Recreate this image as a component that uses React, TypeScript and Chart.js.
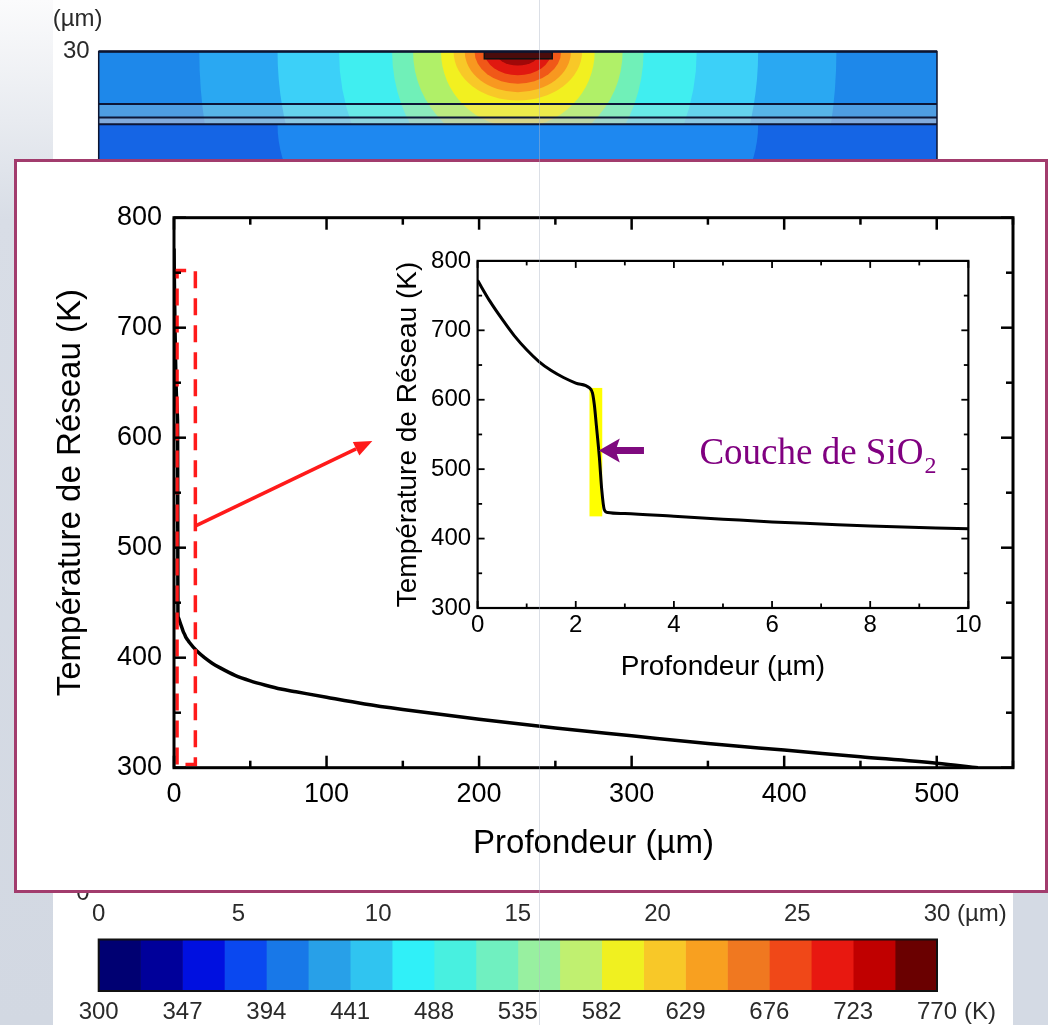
import React, { useEffect, useRef } from "react";
import { Chart, registerables } from "chart.js";
Chart.register(...registerables);

const SANS = "'Liberation Sans', Arial, Helvetica, sans-serif";
const SERIF = "'Liberation Serif', 'Times New Roman', serif";

// ---------- temperature profile (depth in µm, lattice temperature in K) ----------
const profileDepth = [0, 0.25, 0.5, 0.75, 1.0, 1.25, 1.5, 1.75, 2.0, 2.28, 2.34, 2.38, 2.42, 2.48, 2.53, 2.58, 2.65, 3, 4, 5, 6, 7, 8, 9, 10, 15, 20, 25, 30, 40, 50, 60, 70, 80, 100, 125, 150, 200, 250, 300, 350, 400, 450, 500, 527];
const profileTemp = [772, 742, 716, 692, 672, 655, 642, 632, 624, 617, 610, 592, 563, 518, 470, 442, 437.5, 436, 432, 428, 424, 421, 418, 416, 414, 406, 400, 395, 391, 384, 379, 375, 371.5, 369, 364, 358, 353, 344, 336, 329, 322, 316, 310, 304, 300];

// ---------- axes ----------
const mainXTicks = [0, 100, 200, 300, 400, 500];
const mainXMinor = [50, 150, 250, 350, 450, 550];
const mainYTicks = [300, 400, 500, 600, 700, 800];
const mainYMinor = [350, 450, 550, 650, 750];
const insetXTicks = [0, 2, 4, 6, 8, 10];
const insetXMinor = [1, 3, 5, 7, 9];
const insetYTicks = [300, 400, 500, 600, 700, 800];
const insetYMinor = [350, 450, 550, 650, 750];

// ---------- annotations ----------
const zoomBoxDepth = [2, 14];
const zoomBoxTemp = [303, 752];
const zoomArrowDepth = [14.5, 130];
const zoomArrowTemp = [520, 597];
const sio2Depth = [2.28, 2.54];
const sio2Temp = [432, 617];
const sio2ArrowDepth = [3.39, 2.47];
const sio2ArrowTemp = [527, 527];
const sio2LabelDepth = 4.52;
const sio2LabelTemp = 507;

// ---------- background simulation map (µm) ----------
const heatXTicks = [0, 5, 10, 15, 20, 25, 30];
const heatYTicks = [0, 30];
const heatCenterX = 15;
const heatLayerY = [28.13, 27.65, 27.41];
const heatContactX = [13.8, 16.23];
const heatContactY = [29.74, 30];
const heatContourHalfWidth = [11.4, 8.6, 6.4, 4.5, 3.75, 2.75, 2.3, 1.9, 1.55, 1.2, 0.8];
const heatContourDepth = [14, 10, 7, 5, 3.6, 2.7, 1.75, 1.45, 1.15, 0.85, 0.5];
const heatContourColors = ["#2aa8f2", "#3cd0f8", "#40eef0", "#70f0b8", "#b0f068", "#f2f020", "#f8c828", "#f89820", "#f05818", "#e01810", "#a00808"];
const heatOuterColor = "#1e88ea";
const heatSubstrateColors = ["#1565e5", "#1e88f0"];
const heatSubstrateHalfWidth = 8.6;
const heatSubstrateDepth = 6;

// ---------- colour bar ----------
const colorbarTicks = [300, 347, 394, 441, 488, 535, 582, 629, 676, 723, 770];
const colorbarEdges = [300, 323.5, 347, 370.5, 394, 417.5, 441, 464.5, 488, 511.5, 535, 558.5, 582, 605.5, 629, 652.5, 676, 699.5, 723, 746.5, 770];
const colorbarColors = ["#000072", "#00009a", "#0010e0", "#0a48f0", "#1878e8", "#28a0e8", "#30c4f0", "#30f0f8", "#48f0e0", "#70f0c0", "#98f0a0", "#c0f070", "#f0f020", "#f8c828", "#f8a020", "#f07820", "#f04818", "#e81810", "#c00000", "#6a0000"];

// ---------- helpers ----------
const fixSize = (size: number) => (scale: any) => {
  if (scale.isHorizontal()) scale.height = size;
  else scale.width = size;
};
const fixTicks = (vals: number[]) => (scale: any) => {
  scale.ticks = vals.map((v) => ({ value: v }));
};

function frameTicks(p: { xMajor: number[]; xMinor: number[]; yMajor: number[]; yMinor: number[]; major: number; minor: number; frame: number; tick: number }) {
  return {
    id: "frameTicks",
    afterDatasetsDraw(chart: any) {
      const { ctx, chartArea: a, scales } = chart;
      const xs = scales.x, ys = scales.y;
      ctx.save();
      ctx.strokeStyle = "#000";
      ctx.lineCap = "butt";
      ctx.lineWidth = p.tick;
      const seg = (x1: number, y1: number, x2: number, y2: number) => {
        ctx.beginPath();
        ctx.moveTo(x1, y1);
        ctx.lineTo(x2, y2);
        ctx.stroke();
      };
      const xt = (vals: number[], len: number) =>
        vals.forEach((v) => {
          const px = xs.getPixelForValue(v);
          if (px < a.left - 1 || px > a.right + 1) return;
          seg(px, a.bottom, px, a.bottom - len);
          seg(px, a.top, px, a.top + len);
        });
      const yt = (vals: number[], len: number) =>
        vals.forEach((v) => {
          const py = ys.getPixelForValue(v);
          if (py < a.top - 1 || py > a.bottom + 1) return;
          seg(a.left, py, a.left + len, py);
          seg(a.right, py, a.right - len, py);
        });
      xt(p.xMajor, p.major);
      xt(p.xMinor, p.minor);
      yt(p.yMajor, p.major);
      yt(p.yMinor, p.minor);
      ctx.lineWidth = p.frame;
      ctx.strokeRect(a.left, a.top, a.right - a.left, a.bottom - a.top);
      ctx.restore();
    },
  };
}

const mainMarkerPlugin = {
  id: "mainMarker",
  afterDatasetsDraw(chart: any) {
    const { ctx, scales } = chart;
    const X = (v: number) => scales.x.getPixelForValue(v);
    const Y = (v: number) => scales.y.getPixelForValue(v);
    ctx.save();
    ctx.strokeStyle = "#ff1a1a";
    ctx.lineWidth = 3.5;
    ctx.setLineDash([17, 10]);
    const l = X(zoomBoxDepth[0]), r = X(zoomBoxDepth[1]);
    const t = Y(zoomBoxTemp[1]), b = Y(zoomBoxTemp[0]);
    ctx.beginPath();
    ctx.moveTo(l, b);
    ctx.lineTo(l, t);
    ctx.lineTo(r, t);
    ctx.lineTo(r, b);
    ctx.lineTo(l, b);
    ctx.stroke();
    ctx.setLineDash([]);
    const x1 = X(zoomArrowDepth[0]), y1 = Y(zoomArrowTemp[0]);
    const x2 = X(zoomArrowDepth[1]), y2 = Y(zoomArrowTemp[1]);
    const ang = Math.atan2(y2 - y1, x2 - x1);
    const hl = 18, hw = 7.5;
    const bx = x2 - hl * Math.cos(ang), by = y2 - hl * Math.sin(ang);
    ctx.lineWidth = 3.5;
    ctx.beginPath();
    ctx.moveTo(x1, y1);
    ctx.lineTo(bx, by);
    ctx.stroke();
    ctx.fillStyle = "#ff1a1a";
    ctx.beginPath();
    ctx.moveTo(x2, y2);
    ctx.lineTo(bx + hw * Math.sin(ang), by - hw * Math.cos(ang));
    ctx.lineTo(bx - hw * Math.sin(ang), by + hw * Math.cos(ang));
    ctx.closePath();
    ctx.fill();
    ctx.restore();
  },
};

const insetMarkerPlugin = {
  id: "insetMarker",
  beforeDatasetsDraw(chart: any) {
    const { ctx, scales } = chart;
    const X = (v: number) => scales.x.getPixelForValue(v);
    const Y = (v: number) => scales.y.getPixelForValue(v);
    ctx.save();
    ctx.fillStyle = "#ffff00";
    ctx.fillRect(X(sio2Depth[0]), Y(sio2Temp[1]), X(sio2Depth[1]) - X(sio2Depth[0]), Y(sio2Temp[0]) - Y(sio2Temp[1]));
    ctx.restore();
  },
  afterDatasetsDraw(chart: any) {
    const { ctx, scales } = chart;
    const X = (v: number) => scales.x.getPixelForValue(v);
    const Y = (v: number) => scales.y.getPixelForValue(v);
    ctx.save();
    const tail = X(sio2ArrowDepth[0]), tip = X(sio2ArrowDepth[1]);
    const ty = Y(sio2ArrowTemp[1]);
    const hl = 21, hh = 12, sh = 3.5;
    ctx.fillStyle = "#7f0a7f";
    ctx.beginPath();
    ctx.moveTo(tip, ty);
    ctx.lineTo(tip + hl, ty - hh);
    ctx.lineTo(tip + hl - 3, ty - sh);
    ctx.lineTo(tail, ty - sh);
    ctx.lineTo(tail, ty + sh);
    ctx.lineTo(tip + hl - 3, ty + sh);
    ctx.lineTo(tip + hl, ty + hh);
    ctx.closePath();
    ctx.fill();
    ctx.fillStyle = "#800080";
    ctx.textBaseline = "alphabetic";
    ctx.textAlign = "left";
    ctx.font = `37px ${SERIF}`;
    const tx = X(sio2LabelDepth), tyb = Y(sio2LabelTemp);
    const main = "Couche de SiO";
    ctx.fillText(main, tx, tyb);
    const w = ctx.measureText(main).width;
    ctx.font = `24px ${SERIF}`;
    ctx.fillText("2", tx + w + 1, tyb + 9);
    ctx.restore();
  },
};

const heatmapPlugin = {
  id: "heatmap",
  beforeDatasetsDraw(chart: any) {
    const { ctx, chartArea: a, scales } = chart;
    const X = (v: number) => scales.x.getPixelForValue(v);
    const Y = (v: number) => scales.y.getPixelForValue(v);
    const pxX = X(1) - X(0), pxY = Y(0) - Y(1);
    const W = a.right - a.left;
    ctx.save();
    ctx.beginPath();
    ctx.rect(a.left, a.top, W, a.bottom - a.top);
    ctx.clip();
    const ySub = Y(heatLayerY[2]);
    ctx.fillStyle = heatSubstrateColors[0];
    ctx.fillRect(a.left, ySub, W, a.bottom - ySub);
    ctx.fillStyle = heatSubstrateColors[1];
    ctx.beginPath();
    ctx.ellipse(X(heatCenterX), ySub, heatSubstrateHalfWidth * pxX, heatSubstrateDepth * pxY, 0, 0, Math.PI * 2);
    ctx.fill();
    ctx.save();
    ctx.beginPath();
    ctx.rect(a.left, a.top, W, ySub - a.top);
    ctx.clip();
    ctx.fillStyle = heatOuterColor;
    ctx.fillRect(a.left, a.top, W, ySub - a.top);
    heatContourHalfWidth.forEach((hw, i) => {
      ctx.fillStyle = heatContourColors[i];
      ctx.beginPath();
      ctx.ellipse(X(heatCenterX), Y(30), hw * pxX, heatContourDepth[i] * pxY, 0, 0, Math.PI * 2);
      ctx.fill();
    });
    ctx.restore();
    ctx.fillStyle = "rgba(225,220,205,0.25)";
    ctx.fillRect(a.left, Y(heatLayerY[0]), W, Y(heatLayerY[1]) - Y(heatLayerY[0]));
    ctx.fillStyle = "rgba(195,195,210,0.6)";
    ctx.fillRect(a.left, Y(heatLayerY[1]), W, Y(heatLayerY[2]) - Y(heatLayerY[1]));
    ctx.strokeStyle = "#0c1636";
    ctx.lineWidth = 2;
    heatLayerY.forEach((v) => {
      const py = Y(v);
      ctx.beginPath();
      ctx.moveTo(a.left, py);
      ctx.lineTo(a.right, py);
      ctx.stroke();
    });
    const cl = X(heatContactX[0]), cr = X(heatContactX[1]);
    const ct = Y(heatContactY[1]), cb = Y(heatContactY[0]);
    ctx.fillStyle = "#4a0c0c";
    ctx.fillRect(cl, ct, cr - cl, cb - ct);
    ctx.strokeStyle = "#111";
    ctx.lineWidth = 1.5;
    ctx.strokeRect(cl, ct, cr - cl, cb - ct);
    ctx.restore();
    ctx.save();
    ctx.strokeStyle = "#0c1430";
    ctx.lineWidth = 1.5;
    ctx.beginPath();
    ctx.moveTo(a.left, a.bottom);
    ctx.lineTo(a.left, a.top);
    ctx.lineTo(a.right, a.top);
    ctx.lineTo(a.right, a.bottom);
    ctx.stroke();
    ctx.lineWidth = 2.5;
    ctx.beginPath();
    ctx.moveTo(a.left, a.top);
    ctx.lineTo(a.right, a.top);
    ctx.stroke();
    ctx.restore();
  },
  afterDraw(chart: any) {
    const { ctx, chartArea: a, scales } = chart;
    ctx.save();
    ctx.fillStyle = "#2a2a2a";
    ctx.font = `24px ${SANS}`;
    ctx.textBaseline = "middle";
    ctx.textAlign = "center";
    ctx.fillText("(µm)", a.left - 21, a.top - 32);
    ctx.textAlign = "left";
    ctx.fillText("(µm)", scales.x.getPixelForValue(30) + 20, a.bottom + 7 + 14.4);
    ctx.restore();
  },
};

const colorbarPlugin = {
  id: "colorbarFrame",
  afterDraw(chart: any) {
    const { ctx, chartArea: a, scales } = chart;
    ctx.save();
    ctx.strokeStyle = "#111";
    ctx.lineWidth = 2;
    ctx.strokeRect(a.left, a.top, a.right - a.left, a.bottom - a.top);
    ctx.fillStyle = "#2a2a2a";
    ctx.font = `24px ${SANS}`;
    ctx.textBaseline = "middle";
    ctx.textAlign = "left";
    ctx.fillText("(K)", scales.x.getPixelForValue(770) + 27, a.bottom + 6.6 + 14.4);
    ctx.restore();
  },
};

function useChart(ref: any, make: () => any) {
  useEffect(() => {
    const chart = new Chart(ref.current, make());
    return () => chart.destroy();
  }, []);
}

const baseOpts = {
  responsive: false,
  maintainAspectRatio: false,
  animation: false,
  events: [],
};

function HeatmapChart() {
  const ref = useRef<HTMLCanvasElement>(null);
  useChart(ref, () => ({
    type: "scatter",
    data: { datasets: [] },
    plugins: [heatmapPlugin],
    options: {
      ...baseOpts,
      layout: { padding: { top: 51.5, right: 111, left: 0, bottom: 0 } },
      plugins: { legend: { display: false }, tooltip: { enabled: false } },
      scales: {
        x: {
          type: "linear", min: 0, max: 30,
          afterBuildTicks: fixTicks(heatXTicks), afterFit: fixSize(42),
          grid: { display: false, drawTicks: false }, border: { display: false },
          ticks: { font: { family: SANS, size: 24 }, color: "#2a2a2a", padding: 7, maxRotation: 0, autoSkip: false },
        },
        y: {
          type: "linear", min: 0, max: 30,
          afterBuildTicks: fixTicks(heatYTicks), afterFit: fixSize(98.7),
          grid: { display: false, drawTicks: false }, border: { display: false },
          ticks: { font: { family: SANS, size: 24 }, color: "#2a2a2a", padding: 9, autoSkip: false },
        },
      },
    },
  }));
  return <canvas ref={ref} width={1048} height={935} style={{ position: "absolute", left: 0, top: 0, width: 1048, height: 935 }} />;
}

function ColorbarChart() {
  const ref = useRef<HTMLCanvasElement>(null);
  useChart(ref, () => ({
    type: "bar",
    data: {
      labels: ["T"],
      datasets: colorbarColors.map((c, i) => ({
        data: [[colorbarEdges[i], colorbarEdges[i + 1]]],
        backgroundColor: c,
        borderWidth: 0,
        barPercentage: 1,
        categoryPercentage: 1,
        grouped: false,
      })),
    },
    plugins: [colorbarPlugin],
    options: {
      ...baseOpts,
      indexAxis: "y",
      layout: { padding: { top: 14.5, right: 111, left: 98.7, bottom: 0 } },
      plugins: { legend: { display: false }, tooltip: { enabled: false } },
      scales: {
        x: {
          type: "linear", min: 300, max: 770,
          afterBuildTicks: fixTicks(colorbarTicks), afterFit: fixSize(34),
          grid: { display: false, drawTicks: false }, border: { display: false },
          ticks: { font: { family: SANS, size: 24 }, color: "#2a2a2a", padding: 6.6, maxRotation: 0, autoSkip: false },
        },
        y: { display: false },
      },
    },
  }));
  return <canvas ref={ref} width={1048} height={100} style={{ position: "absolute", left: 0, top: 925, width: 1048, height: 100 }} />;
}

function MainChart() {
  const ref = useRef<HTMLCanvasElement>(null);
  useChart(ref, () => ({
    type: "line",
    data: {
      datasets: [{
        data: profileDepth.map((x, i) => ({ x, y: profileTemp[i] })),
        borderColor: "#000", borderWidth: 3.5, pointRadius: 0, fill: false,
        cubicInterpolationMode: "monotone",
      }],
    },
    plugins: [mainMarkerPlugin, frameTicks({ xMajor: mainXTicks, xMinor: mainXMinor, yMajor: mainYTicks, yMinor: mainYMinor, major: 12, minor: 7, frame: 3, tick: 2.5 })],
    options: {
      ...baseOpts,
      layout: { padding: { top: 55.7, right: 32, left: 0, bottom: 0 } },
      plugins: { legend: { display: false }, tooltip: { enabled: false } },
      scales: {
        x: {
          type: "linear", min: 0, max: 550,
          afterBuildTicks: fixTicks(mainXTicks), afterFit: fixSize(122.3),
          grid: { display: false, drawTicks: false }, border: { display: false },
          ticks: { font: { family: SANS, size: 27 }, color: "#000", padding: 10.7, maxRotation: 0, autoSkip: false },
          title: { display: true, text: "Profondeur (µm)", font: { family: SANS, size: 33 }, color: "#000", padding: { top: 0, bottom: 26.6 } },
        },
        y: {
          type: "linear", min: 300, max: 800,
          afterBuildTicks: fixTicks(mainYTicks), afterFit: fixSize(157),
          grid: { display: false, drawTicks: false }, border: { display: false },
          ticks: { font: { family: SANS, size: 27 }, color: "#000", padding: 12, autoSkip: false },
          title: { display: true, text: "Température de Réseau (K)", font: { family: SANS, size: 33 }, color: "#000", padding: { top: 33.8, bottom: 0 } },
        },
      },
    },
  }));
  return <canvas ref={ref} width={1028} height={728} style={{ position: "absolute", left: 17, top: 162, width: 1028, height: 728 }} />;
}

function InsetChart() {
  const ref = useRef<HTMLCanvasElement>(null);
  useChart(ref, () => ({
    type: "line",
    data: {
      datasets: [{
        data: profileDepth.map((x, i) => ({ x, y: profileTemp[i] })),
        borderColor: "#000", borderWidth: 3, pointRadius: 0, fill: false,
        cubicInterpolationMode: "monotone",
      }],
    },
    plugins: [insetMarkerPlugin, frameTicks({ xMajor: insetXTicks, xMinor: insetXMinor, yMajor: insetYTicks, yMinor: insetYMinor, major: 7, minor: 4.5, frame: 2.2, tick: 1.8 })],
    options: {
      ...baseOpts,
      layout: { padding: { top: 19, right: 16, left: 0, bottom: 0 } },
      plugins: { legend: { display: false }, tooltip: { enabled: false } },
      scales: {
        x: {
          type: "linear", min: 0, max: 10,
          afterBuildTicks: fixTicks(insetXTicks), afterFit: fixSize(82),
          grid: { display: false, drawTicks: false }, border: { display: false },
          ticks: { font: { family: SANS, size: 24 }, color: "#000", padding: 3.3, maxRotation: 0, autoSkip: false },
          title: { display: true, text: "Profondeur (µm)", font: { family: SANS, size: 28 }, color: "#000", padding: { top: 0, bottom: 5.7 } },
        },
        y: {
          type: "linear", min: 300, max: 800,
          afterBuildTicks: fixTicks(insetYTicks), afterFit: fixSize(92.6),
          grid: { display: false, drawTicks: false }, border: { display: false },
          ticks: { font: { family: SANS, size: 24 }, color: "#000", padding: 6.5, autoSkip: false },
          title: { display: true, text: "Température de Réseau (K)", font: { family: SANS, size: 28 }, color: "#000", padding: { top: 6, bottom: 0 } },
        },
      },
    },
  }));
  return <canvas ref={ref} width={600} height={450} style={{ position: "absolute", left: 385, top: 240, width: 600, height: 450 }} />;
}

export default function App() {
  return (
    <div style={{ position: "absolute", left: 0, top: 0, width: 1048, height: 1025, overflow: "hidden", background: "#ffffff" }}>
      <div style={{ position: "absolute", left: 0, top: 0, width: 53, height: 1025, background: "linear-gradient(to bottom, #fbfbfc 0px, #e8ebf0 120px, #d8dde6 220px, #d2d8e2 1025px)" }} />
      <div style={{ position: "absolute", left: 1013, top: 893, width: 35, height: 132, background: "#d4dae4" }} />
      <HeatmapChart />
      <ColorbarChart />
      <div style={{ position: "absolute", left: 14, top: 159, width: 1034, height: 734, boxSizing: "border-box", border: "3px solid #a23c6d", background: "#ffffff" }} />
      <MainChart />
      <InsetChart />
      <div style={{ position: "absolute", left: 539, top: 0, width: 1, height: 1025, background: "rgba(175,185,200,0.45)" }} />
    </div>
  );
}
